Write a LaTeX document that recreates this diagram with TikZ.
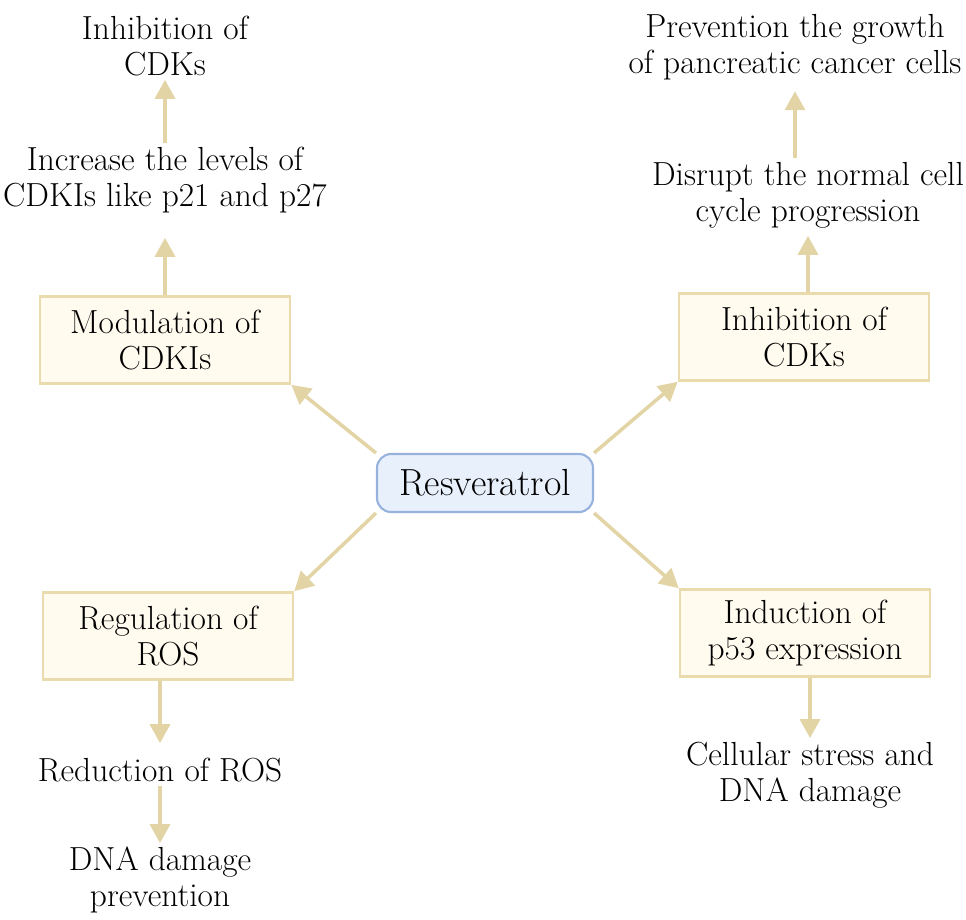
\documentclass[tikz,border=0pt]{standalone}
\usepackage{xcolor}
\usetikzlibrary{arrows.meta,positioning}
\definecolor{arrowc}{RGB}{226,212,164}
\definecolor{boxline}{RGB}{233,219,172}
\definecolor{boxfill}{RGB}{255,251,239}
\definecolor{coreline}{RGB}{152,178,222}
\definecolor{corefill}{RGB}{232,240,252}

\begin{document}
\begin{tikzpicture}[
  box/.style={draw=boxline, line width=1.5pt, fill=boxfill, rectangle, align=center,
              minimum width=5cm, minimum height=1.74cm, inner sep=2pt,
              font=\fontsize{19}{20.5}\selectfont},
  core/.style={draw=coreline, line width=1.2pt, fill=corefill, rounded corners=8pt,
               minimum width=4.32cm, minimum height=1.16cm, inner sep=2pt,
               font=\fontsize{21.5}{24}\selectfont},
  txt/.style={align=center, inner sep=2pt, font=\fontsize{19}{20.5}\selectfont},
  ar/.style={-{Triangle[width=4mm,length=3.8mm]}, line width=2pt, draw=arrowc},
]
\useasboundingbox (0,0) rectangle (19.32,-18.38);

\node[core] (res) at (9.7,-9.66) {Resveratrol};

% four branches
\node[box] (mod) at (3.3,-6.8) {Modulation of\\CDKIs};
\node[box] (inh) at (16.08,-6.74) {Inhibition of\\CDKs};
\node[box] (reg) at (3.36,-12.72) {Regulation of\\ROS};
\node[box] (ind) at (16.1,-12.66) {Induction of\\p53 expression};

\draw[ar] (res.north west) -- (mod.south east);
\draw[ar] (res.north east) -- (inh.south west);
\draw[ar] (res.south west) -- (reg.north east);
\draw[ar] (res.south east) -- (ind.north west);

% outcomes
\node[txt] (lvl) at (3.3,-3.6) {Increase the levels of\\CDKIs like p21 and p27};
\node[txt] (cdk) at (3.3,-0.92) {Inhibition of\\CDKs};
\node[txt] (disr) at (16.16,-3.9) {Disrupt the normal cell\\cycle progression};
\node[txt] (prev) at (15.9,-0.94) {Prevention the growth\\of pancreatic cancer cells};
\node[txt] (red) at (3.2,-15.4) {Reduction of ROS};
\node[txt] (dna) at (3.2,-17.6) {DNA damage\\prevention};
\node[txt] (str) at (16.2,-15.5) {Cellular stress and\\DNA damage};

\draw[ar, shorten >=0.42cm] (mod) -- (lvl);
\draw[ar] (lvl) -- (cdk);
\draw[ar, shorten >=0.08cm] (inh.north -| disr) -- (disr);
\draw[ar, shorten >=0.15cm] (disr.north -| prev) -- (prev);
\draw[ar, shorten >=0.22cm] (reg.south -| red) -- (red);
\draw[ar] (red) -- (dna);
\draw[ar] (ind.south -| str) -- (str);
\end{tikzpicture}
\end{document}
